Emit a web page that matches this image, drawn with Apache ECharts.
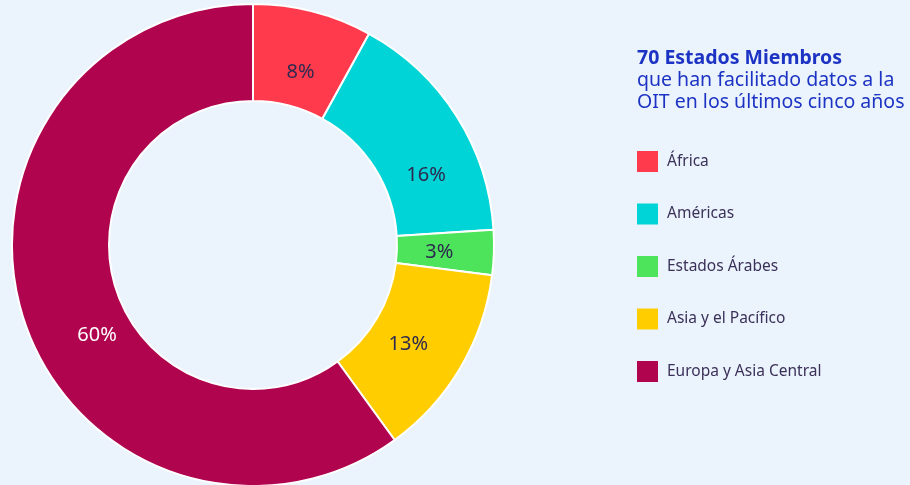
<!DOCTYPE html>
<html><head><meta charset="utf-8">
<script src="https://cdn.jsdelivr.net/npm/echarts@6/dist/echarts.min.js"></script>
<style>html,body{margin:0;padding:0;background:#ebf4fc;}#c{width:910px;height:485px;}</style>
</head><body><div id="c"></div>
<script>
const categories = ['África', 'Américas', 'Estados Árabes', 'Asia y el Pacífico', 'Europa y Asia Central'];
const shares = [8, 16, 3, 13, 60];
const titleLines = ['70 Estados Miembros', 'que han facilitado datos a la', 'OIT en los últimos cinco años'];

const colors = ['#ff3a4d', '#00d4d6', '#4de35a', '#ffcd00', '#b0044e'];
const labelColors = ['#2e2a4f', '#2e2a4f', '#2e2a4f', '#2e2a4f', '#ffffff'];
// label placement nudges (pixels), mimicking the reference's in-slice text placement
const labelOffsets = [[-1, 17], [8, 35], [-9, 1], [-13, 0], [30, 30]];

const chart = echarts.init(document.getElementById('c'));
chart.setOption({
  backgroundColor: '#ebf4fc',
  color: colors,
  title: {
    left: 632, top: 42,
    text: '{b|' + titleLines[0] + '}\n{n|' + titleLines[1] + '}\n{n|' + titleLines[2] + '}',
    textStyle: {
      fontWeight: 'normal',
      rich: {
        b: {fontFamily: 'Noto Sans', fontWeight: 'bold', fontSize: 19.5, color: '#1c33c4', lineHeight: 22},
        n: {fontFamily: 'Noto Sans', fontWeight: 'normal', fontSize: 19.5, color: '#1c33c4', lineHeight: 22}
      }
    }
  },
  legend: {
    orient: 'vertical', left: 632, top: 146,
    icon: 'rect', itemWidth: 21, itemHeight: 21, itemGap: 31.5,
    itemStyle: {borderWidth: 0},
    textStyle: {fontFamily: 'Noto Sans', fontSize: 15.5, lineHeight: 21, color: '#3a3059', padding: [0, 0, 0, 4]},
    data: categories
  },
  series: [{
    type: 'pie',
    center: [253, 245],
    radius: [144, 241],
    startAngle: 90,
    clockwise: true,
    avoidLabelOverlap: false,
    itemStyle: {borderColor: '#ffffff', borderWidth: 2},
    label: {
      show: true, position: 'inside',
      fontFamily: 'Noto Sans', fontSize: 20,
      formatter: p => p.value + '%'
    },
    labelLine: {show: false},
    emphasis: {disabled: true},
    data: categories.map((c, i) => ({name: c, value: shares[i], label: {color: labelColors[i], offset: labelOffsets[i]}}))
  }]
});
</script></body></html>
